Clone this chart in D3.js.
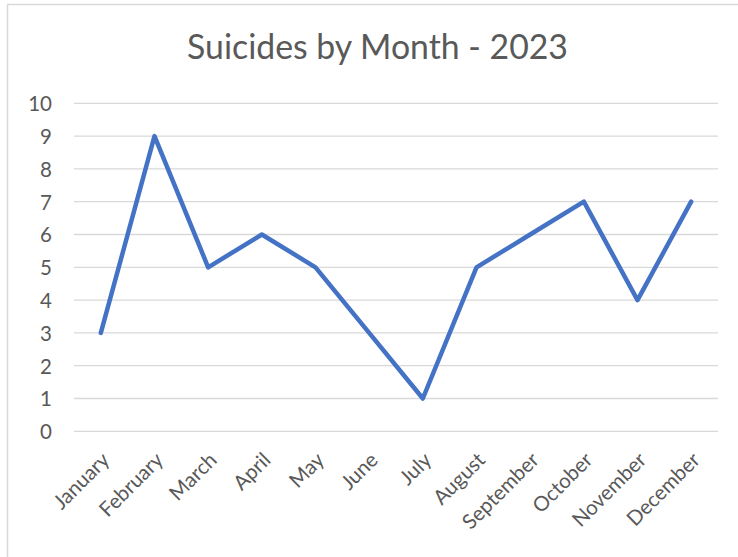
<!DOCTYPE html>
<html>
    <head>
        <meta charset="utf-8"/>
        <script src="https://cdn.jsdelivr.net/npm/d3@7"></script>
        <style>
            body { margin: 0; background: #fff; }
            text { font-family: Lato, "Open Sans", sans-serif; fill: #595959; }
        </style>
    </head>
    <body>
        <div id="chart"></div>
        <script type="text/javascript">
            var months = ["January", "February", "March", "April", "May", "June",
                          "July", "August", "September", "October", "November", "December"];
            var suicides = [3, 9, 5, 6, 5, 3, 1, 5, 6, 7, 4, 7];
            var yTicks = [0, 1, 2, 3, 4, 5, 6, 7, 8, 9, 10];
            var title = "Suicides by Month - 2023";

            var width = 738, height = 557;
            var plot = {left: 74, right: 718, top: 103.3, bottom: 431.3};

            var svg = d3.select("#chart").append("svg")
                .attr("width", width)
                .attr("height", height);

            // chart area border (runs off the right and bottom edge)
            svg.append("rect")
                .attr("x", 7.5).attr("y", 4.5)
                .attr("width", 760).attr("height", 580)
                .attr("fill", "#fff")
                .attr("stroke", "#d9d9d9")
                .attr("stroke-width", 1.5);

            var x = d3.scaleBand()
                .domain(months)
                .range([plot.left, plot.right]);

            var y = d3.scaleLinear()
                .domain([0, 10])
                .range([plot.bottom, plot.top]);

            // gridlines
            svg.append("g").selectAll("line")
                .data(yTicks)
                .enter().append("line")
                .attr("x1", plot.left).attr("x2", plot.right)
                .attr("y1", function(d) { return y(d); })
                .attr("y2", function(d) { return y(d); })
                .attr("stroke", "#d9d9d9")
                .attr("stroke-width", 1.3);

            // y axis labels
            var yAxis = d3.axisLeft(y).tickValues(yTicks).tickSize(0).tickPadding(0);
            var yg = svg.append("g")
                .attr("transform", "translate(" + 52 + ",0)")
                .call(yAxis);
            yg.select(".domain").remove();
            yg.selectAll("text")
                .attr("font-family", null)
                .style("font-size", "20.5px")
                .attr("dy", "0.36em");

            // x axis labels, rotated
            var xAxis = d3.axisBottom(x).tickSize(0).tickPadding(0);
            var xg = svg.append("g")
                .attr("transform", "translate(0," + plot.bottom + ")")
                .call(xAxis);
            xg.select(".domain").remove();
            xg.selectAll("text")
                .attr("font-family", null)
                .style("font-size", "20.5px")
                .style("text-anchor", "end")
                .attr("y", 0)
                .attr("dy", 0)
                .attr("transform", "translate(10,30) rotate(-45)");

            // the line
            var line = d3.line()
                .x(function(d, i) { return x(months[i]) + x.bandwidth() / 2; })
                .y(function(d) { return y(d); });

            svg.append("path")
                .datum(suicides)
                .attr("d", line)
                .attr("fill", "none")
                .attr("stroke", "#4472c4")
                .attr("stroke-width", 4.5)
                .attr("stroke-linejoin", "round")
                .attr("stroke-linecap", "round");

            // title, sized to the width it has in the picture
            var t = svg.append("text")
                .attr("x", 377.5)
                .attr("y", 59)
                .attr("text-anchor", "middle")
                .style("font-size", "30px")
                .text(title);
            var w = t.node().getComputedTextLength();
            t.style("font-size", (30 * 381 / w) + "px");
        </script>
    </body>
</html>
